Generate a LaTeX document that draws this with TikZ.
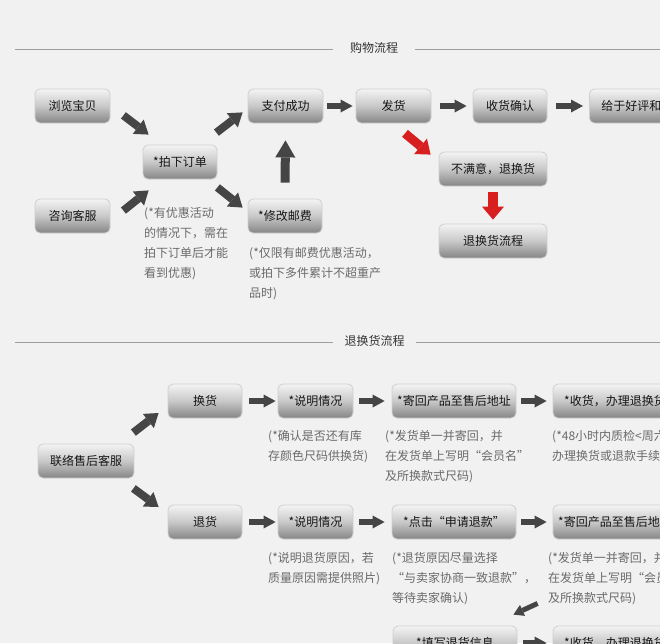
\documentclass[tikz,border=0pt]{standalone}
\usepackage{fontspec}
\setmainfont{Noto Sans CJK SC}
\usetikzlibrary{arrows.meta}
\definecolor{bg}{HTML}{F1F1F1}
\definecolor{arrgray}{HTML}{454545}
\definecolor{arrred}{HTML}{D71F1F}
\definecolor{boxline}{HTML}{CFCFCF}
\definecolor{boxtop}{HTML}{F4F4F4}
\definecolor{boxmid}{HTML}{C8C8C8}
\definecolor{boxbot}{HTML}{858585}
\definecolor{boxtext}{HTML}{151515}
\definecolor{notegray}{HTML}{6A6A6A}
\definecolor{headtext}{HTML}{333333}
\definecolor{linegray}{HTML}{9E9E9E}
\tikzset{
  box/.style={draw=boxline, line width=0.8pt, rounded corners=5pt,
    top color=boxtop, bottom color=boxbot, middle color=boxmid,
    minimum height=34pt, inner sep=0pt, text=boxtext,
    font=\fontsize{12}{14}\selectfont},
  note/.style={anchor=north west, inner sep=0pt, align=left, text=notegray,
    font=\fontsize{12}{20}\selectfont},
  headtxt/.style={inner sep=0pt, text=headtext, font=\fontsize{12}{14}\selectfont},
  hline/.style={draw=linegray, line width=1pt},
  harr/.style={draw=arrgray, line width=6.5pt, -{Triangle[length=12pt, width=13pt, line width=0pt]}},
  darr/.style={draw=arrgray, line width=8pt, -{Triangle[length=13pt, width=18pt, line width=0pt]}},
  sarr/.style={draw=arrgray, line width=5pt, -{Triangle[length=10pt, width=12pt, line width=0pt]}},
  varr/.style={draw=arrgray, line width=9pt, -{Triangle[length=17pt, width=20pt, line width=0pt]}},
  rdarr/.style={draw=arrred, line width=9pt, -{Triangle[length=13pt, width=20pt, line width=0pt]}},
  rvarr/.style={draw=arrred, line width=10pt, -{Triangle[length=13pt, width=22pt, line width=0pt]}}
}
\begin{document}
\begin{tikzpicture}[x=1pt,y=-1pt]
\useasboundingbox (0,0) rectangle (660,643);
\fill[bg] (0,0) rectangle (660,643);
\clip (0,0) rectangle (660,643);

% headers
\node[headtxt, minimum width=82pt] (h1) at (374,48) {购物流程};
\coordinate (h1l) at (15,49);
\coordinate (h1r) at (660,49);
\draw[hline] (h1l) -- (h1.west |- h1l);
\draw[hline] (h1.east |- h1r) -- (h1r);

\node[headtxt, minimum width=83pt] (h2) at (374.5,341) {退换货流程};
\coordinate (h2l) at (15,342);
\coordinate (h2r) at (660,342);
\draw[hline] (h2l) -- (h2.west |- h2l);
\draw[hline] (h2.east |- h2r) -- (h2r);

% top section boxes
\node[box, minimum width=75pt] (b1) at (72.5,106) {浏览宝贝};
\node[box, minimum width=75pt] (b2) at (72.5,216) {咨询客服};
\node[box, minimum width=74pt] (b3) at (180,162) {*拍下订单};
\node[box, minimum width=75pt] (b4) at (285.5,106) {支付成功};
\node[box, minimum width=74pt] (b5) at (285,216) {*修改邮费};
\node[box, minimum width=75pt] (b6) at (393.5,106) {发货};
\node[box, minimum width=74pt] (b7) at (510,106) {收货确认};
\node[box, anchor=west, minimum width=108pt, text width=84pt, align=left] (b8) at (589,106) {给于好评和};
\node[box, minimum width=108pt] (b9) at (493,169) {不满意，退换货};
\node[box, minimum width=108pt] (b10) at (493,241) {退换货流程};

% top notes
\node[note] (n1) at (144,207.5) {(*有优惠活动\\的情况下，需在\\拍下订单后才能\\看到优惠)};
\node[note] (n2) at (249,247.5) {(*仅限有邮费优惠活动，\\或拍下多件累计不超重产\\品时)};

% top arrows
\draw[darr] ([shift={(13,-8)}]b1.south east) -- ([shift={(6,-10)}]b3.north west);
\draw[darr] ([shift={(-1,-12)}]b3.north east) -- ([shift={(-5,-11)}]b4.south west);
\draw[darr] ([shift={(13,12)}]b2.north east) -- ([shift={(6,11)}]b3.south west);
\draw[darr] ([shift={(0,8)}]b3.south east) -- ([shift={(-5,9)}]b5.north west);
\draw[varr] ([shift={(0,-16)}]b5.north) -- ([shift={(0,17)}]b4.south);
\draw[harr] ([xshift=4pt]b4.east) -- ([xshift=-3pt]b6.west);
\draw[harr] ([xshift=9pt]b6.east) -- ([xshift=-6pt]b7.west);
\draw[harr] ([xshift=9pt]b7.east) -- ([xshift=-6pt]b8.west);
\draw[rdarr] ([shift={(11.5,10)}]b6.south) -- ([shift={(-8,3)}]b9.north west);
\draw[rvarr] ([shift={(0,6)}]b9.south) -- ([shift={(0,-4)}]b10.north);

% bottom section boxes
\node[box, minimum width=96pt] (c1) at (86,461) {联络售后客服};
\node[box, minimum width=74pt] (c2) at (205,401) {换货};
\node[box, minimum width=75pt] (c3) at (315.5,401) {*说明情况};
\node[box, minimum width=124pt] (c4) at (454,401) {*寄回产品至售后地址};
\node[box, minimum width=124pt] (c5) at (615,401) {*收货，办理退换货};
\node[box, minimum width=74pt] (d1) at (205,522) {退货};
\node[box, minimum width=75pt] (d2) at (315.5,522) {*说明情况};
\node[box, minimum width=124pt] (d3) at (454,522) {*点击“申请退款”};
\node[box, minimum width=124pt] (d4) at (615,522) {*寄回产品至售后地址};
\node[box, minimum width=124pt] (e1) at (455,643) {*填写退货信息};
\node[box, minimum width=124pt] (e2) at (615,643) {*收货，办理退换货};

% bottom notes
\node[note] (n3) at (268,430.5) {(*确认是否还有库\\存颜色尺码供换货)};
\node[note] (n4) at (385,430.5) {(*发货单一并寄回，并\\在发货单上写明“会员名”\\及所换款式尺码)};
\node[note] (n5) at (552,430.5) {(*48小时内质检<周六\\办理换货或退款手续};
\node[note] (n6) at (268,552.5) {(*说明退货原因，若\\质量原因需提供照片)};
\node[note] (n7) at (392,552.5) {(*退货原因尽量选择\\ “与卖家协商一致退款”，\\等待卖家确认)};
\node[note] (n8) at (548,552.5) {(*发货单一并寄回，并\\在发货单上写明“会员名”\\及所换款式尺码)};

% bottom arrows
\draw[darr] ([shift={(-1,-11)}]c1.north east) -- ([shift={(-9,12)}]c2.west);
\draw[darr] ([shift={(-1,10)}]c1.south east) -- ([shift={(-9,-15)}]d1.west);
\draw[harr] ([xshift=7pt]c2.east) -- ([xshift=-2pt]c3.west);
\draw[harr] ([xshift=6pt]c3.east) -- ([xshift=-7pt]c4.west);
\draw[harr] ([xshift=5pt]c4.east) -- ([xshift=-6pt]c5.west);
\draw[harr] ([xshift=7pt]d1.east) -- ([xshift=-2pt]d2.west);
\draw[harr] ([xshift=6pt]d2.east) -- ([xshift=-7pt]d3.west);
\draw[harr] ([xshift=5pt]d3.east) -- ([xshift=-6pt]d4.west);
\draw[sarr] ([shift={(-15,64)}]d4.south west) -- ([shift={(-4,-11)}]e1.north east);
\draw[harr] ([xshift=6pt]e1.east) -- ([xshift=-6pt]e2.west);
\end{tikzpicture}
\end{document}
